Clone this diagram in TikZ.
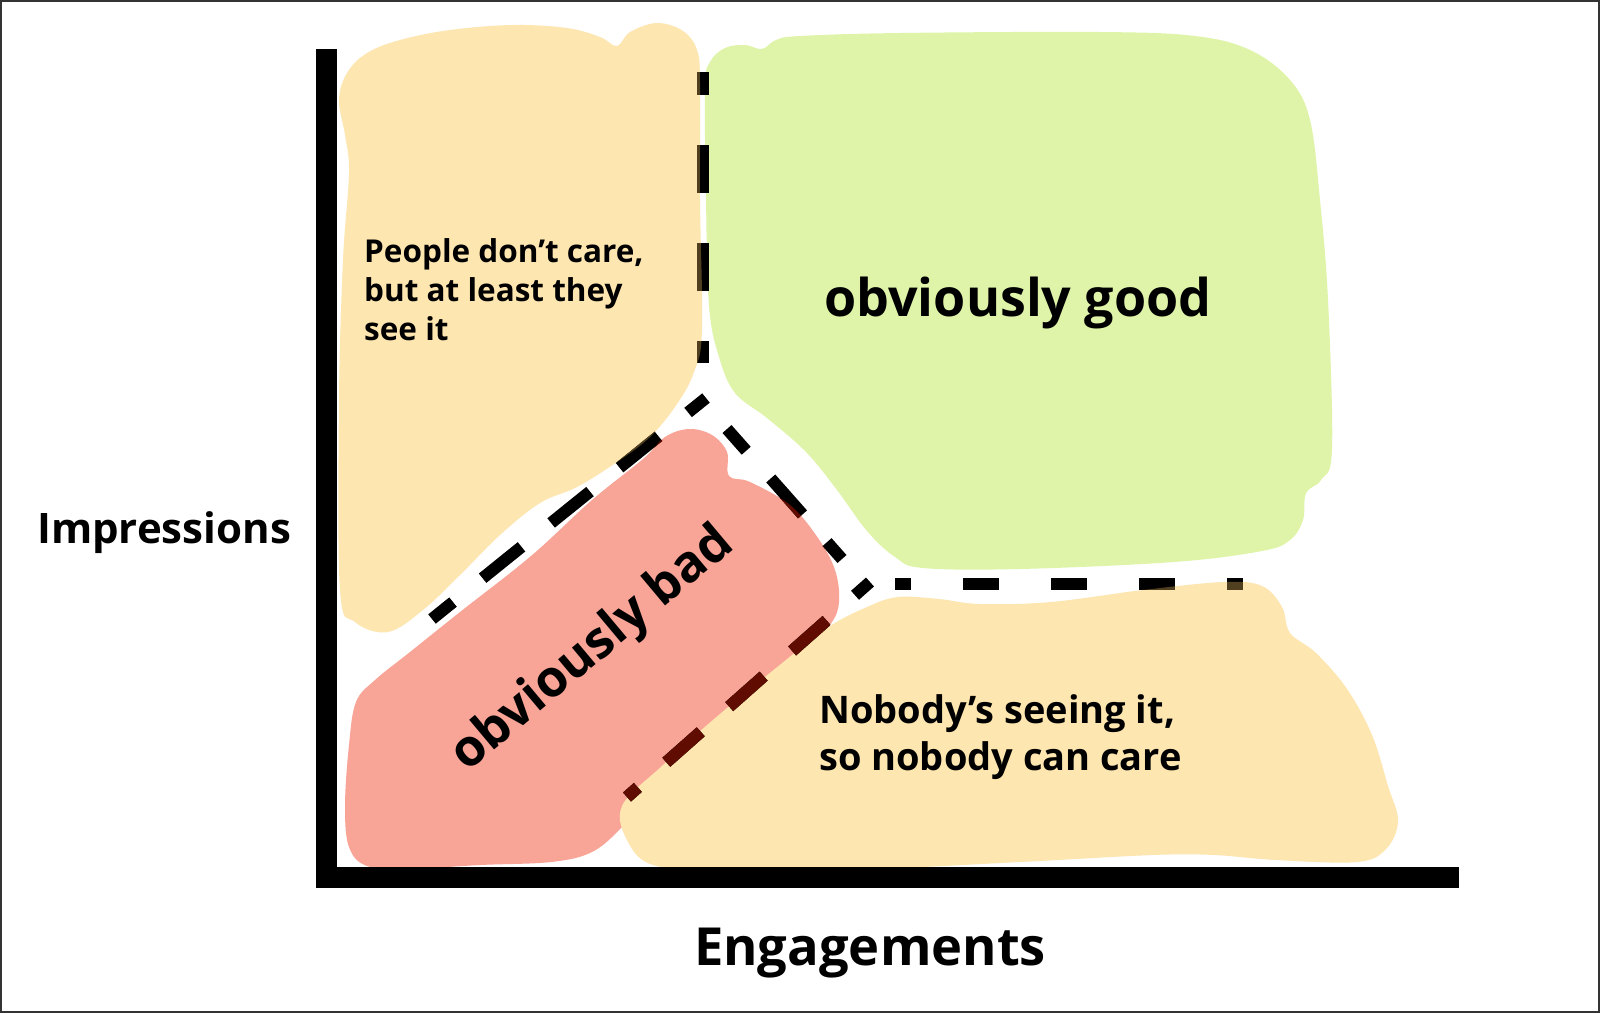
\documentclass[tikz,border=0pt]{standalone}
\usepackage{fontspec}
\setmainfont{Open Sans}
\definecolor{ylw}{RGB}{253,230,176}
\definecolor{grn}{RGB}{223,244,169}
\definecolor{rd}{RGB}{248,164,151}
\definecolor{dashbrown}{RGB}{80,64,32}
\definecolor{dashred}{RGB}{96,12,0}
\begin{document}
\begin{tikzpicture}[x=1pt,y=-1pt,
  lbl/.style={font=\bfseries, inner sep=0pt, text=black},
  dashline/.style={line width=12pt, line cap=butt},
  axisline/.style={line width=21pt, line join=miter, black}]
\useasboundingbox (0,0) rectangle (1600,1013);
\fill[white] (0,0) rectangle (1600,1013);
\draw[line width=2pt, black!80] (1,1) rectangle (1599,1012);

\def\blobTL{plot[smooth cycle, tension=.6] coordinates {(339,100) (347,73) (367,53) (400,40) (450,30) (513,25) (567,28) (600,37) (617,46) (630,32) (657,23) (683,31) (697,50) (700,83) (700,200) (702,330) (694,372) (677,404) (650,437) (617,462) (577,487) (540,503) (500,535) (460,575) (423,610) (388,632) (355,622) (340,590) (339,400) (343,260) (349,173) (345,135)}}
\def\blobG{plot[smooth cycle, tension=.6] coordinates {(705,88) (710,62) (725,48) (745,45) (762,49) (776,40) (800,36) (900,33) (1100,32) (1195,36) (1250,50) (1290,80) (1310,120) (1320,200) (1328,300) (1332,449) (1321,480) (1306,493) (1303,520) (1290,540) (1262,551) (1174,562) (1020,569) (923,568) (895,557) (867,531) (837,490) (806,452) (767,418) (735,393) (719,357) (709,306) (706,200)}}
\def\blobR{plot[smooth cycle, tension=.6] coordinates {(689,429) (712,435) (727,452) (729,476) (750,482) (790,505) (818,538) (835,570) (839,602) (830,625) (800,658) (755,704) (704,750) (653,791) (622,827) (592,852) (551,862) (480,865) (408,869) (367,866) (349,847) (345,806) (349,745) (356,702) (375,680) (410,652) (460,612) (531,556) (592,500) (643,459) (665,437)}}
\def\blobBR{plot[smooth cycle, tension=.6] coordinates {(622,806) (663,765) (714,719) (776,668) (827,628) (867,607) (898,597) (939,599) (980,604) (1051,602) (1143,590) (1224,582) (1262,586) (1282,607) (1290,633) (1316,653) (1347,689) (1372,735) (1388,786) (1398,821) (1386,849) (1357,862) (1276,860) (1214,855) (1153,855) (1020,862) (867,869) (714,869) (653,865) (628,842)}}

% blobs
\fill[ylw] \blobTL;
\fill[grn] \blobG;
\fill[rd] \blobR;
\fill[ylw] \blobBR;

% dashed boundaries
\def\dashes#1{%
  \draw[dashline, #1, dash pattern=on 48pt off 50pt, dash phase=25pt] (703,72) -- (703,363);
  \draw[dashline, #1, dash pattern=on 50pt off 38pt, dash phase=23pt] (432,619) -- (706,398);
  \draw[dashline, #1, dash pattern=on 48pt off 37pt, dash phase=19pt] (727,429) -- (842,559);
  \draw[dashline, #1, dash pattern=on 36pt off 52pt, dash phase=20pt] (895,584) -- (1243,584);
  \draw[dashline, #1, dash pattern=on 46pt off 38pt, dash phase=26pt] (870,582) -- (627,797);
}
\dashes{black}
\begin{scope}
  \clip \blobTL;
  \dashes{dashbrown}
\end{scope}
\begin{scope}
  \clip \blobBR;
  \dashes{dashbrown}
\end{scope}
\begin{scope}
  \clip \blobR;
  \dashes{dashred}
\end{scope}

% axes
\draw[axisline] (326.5,49) -- (326.5,877.5) -- (1459,877.5);

% labels
\node[lbl, anchor=base west, font=\bfseries\fontsize{42}{50}\selectfont] (imp) at (37,543) {Impressions};
\node[lbl, anchor=base, font=\bfseries\fontsize{52.5}{62}\selectfont] (eng) at (870,965) {Engagements};
\node[lbl, anchor=base, font=\bfseries\fontsize{52}{62}\selectfont] (good) at (1018,316) {obviously good};
\node[lbl, rotate=40, font=\bfseries\fontsize{51}{61}\selectfont] (bad) at (593,650) {obviously bad};
\node[lbl, anchor=north west, align=left, font=\bfseries\fontsize{31.5}{39}\selectfont] (care) at (364,238) {People don’t care,\\but at least they\\see it};
\node[lbl, anchor=north west, align=left, font=\bfseries\fontsize{38}{47}\selectfont] (nobody) at (819,694) {Nobody’s seeing it,\\so nobody can care};
\end{tikzpicture}
\end{document}
